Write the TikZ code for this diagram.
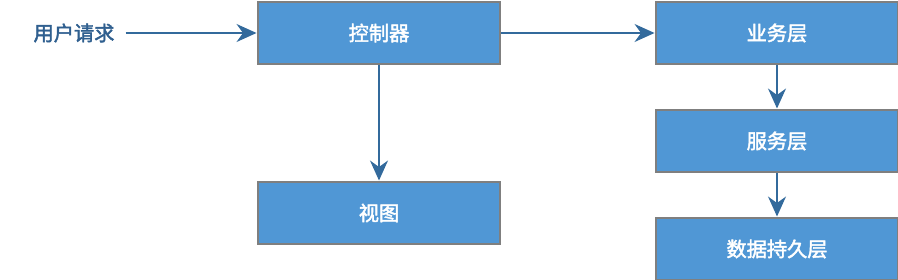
\documentclass[tikz,border=0pt]{standalone}
\usepackage{fontspec}
\setmainfont{Noto Sans CJK SC}
\newfontfamily\layerfont{Noto Sans CJK SC}[FakeBold=2.2]
\usetikzlibrary{positioning,arrows.meta}
\definecolor{boxfill}{HTML}{5097D5}
\definecolor{boxline}{HTML}{7F7F7F}
\definecolor{flowline}{HTML}{336A9C}
\definecolor{labeltext}{HTML}{2F5F8F}

\begin{document}
\begin{tikzpicture}[
  x=0.02cm, y=-0.02cm,
  every node/.style={font=\layerfont\fontsize{11.5}{13}\selectfont},
  layer/.style={rectangle, draw=boxline, line width=0.04cm, fill=boxfill,
    text=white, minimum width=4.86cm, minimum height=1.26cm, inner sep=0pt},
  flow/.style={draw=flowline, line width=0.03cm, -{Stealth[length=4mm, width=3.6mm, inset=1.3mm]}}
]
\useasboundingbox (0,0) rectangle (898,280);
% left column
\node[text=labeltext] (req) at (74,33) {用户请求};
\node[layer] (ctrl) at (379,33) {控制器};
\node[layer] (view) at (379,213) {视图};
% right column
\node[layer] (biz) at (777,33) {业务层};
\node[layer] (svc) at (777,141) {服务层};
\node[layer] (dao) at (777,249) {数据持久层};
% connectors
\draw[flow] (req.east) ++(5,0) coordinate (reqE) -- (ctrl.west);
\draw[flow] (ctrl) -- (biz);
\draw[flow] (ctrl) -- (view);
\draw[flow] (biz) -- (svc);
\draw[flow] (svc) -- (dao);
\end{tikzpicture}
\end{document}
